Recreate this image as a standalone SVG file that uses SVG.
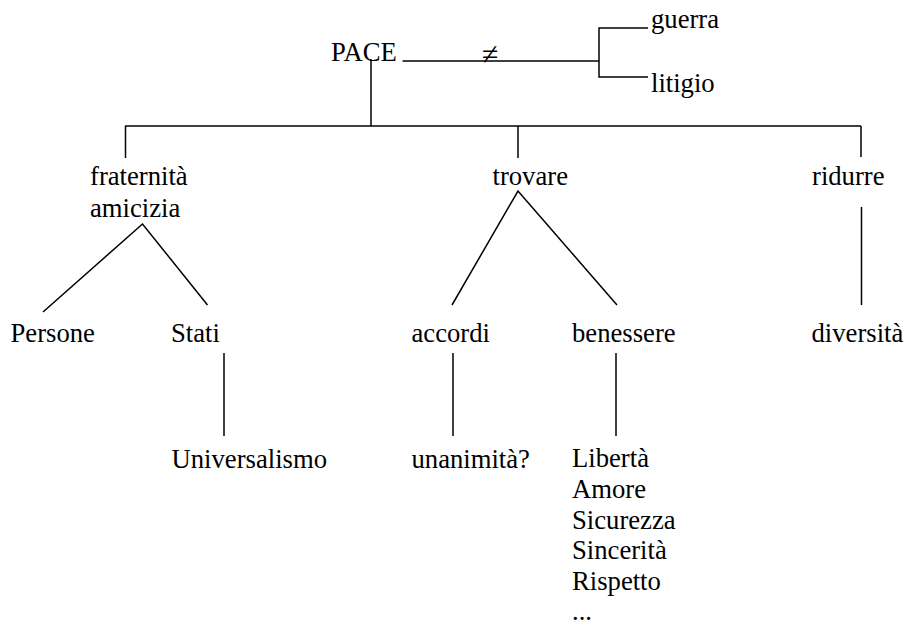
<svg xmlns="http://www.w3.org/2000/svg" width="909" height="623" viewBox="0 0 909 623">
<style>
text{font-family:"Liberation Serif","Times New Roman",Times,"DejaVu Serif",serif;font-size:26.67px;fill:#000}
.c line,.c polyline{stroke:#000;stroke-width:1.5;fill:none}
</style>
<rect width="909" height="623" fill="#fff"/>
<g class="c" id="connectors">
<line x1="402.5" y1="61" x2="599" y2="61"/>
<polyline points="648,28 599,28 599,77 648,77"/>
<line x1="371" y1="59" x2="371" y2="126"/>
<line x1="125" y1="126" x2="861" y2="126"/>
<line x1="125.5" y1="126" x2="125.5" y2="158"/>
<line x1="518" y1="126" x2="518" y2="158"/>
<line x1="861" y1="126" x2="861" y2="157"/>
<polyline points="43,312 142.5,224 207.5,305"/>
<polyline points="452,305 518,191 617,305"/>
<line x1="861.5" y1="207" x2="861.5" y2="305"/>
<line x1="224" y1="353" x2="224" y2="436"/>
<line x1="453" y1="353" x2="453" y2="436"/>
<line x1="616" y1="353" x2="616" y2="436"/>
<text x="482" y="64" style="font-size:30px">≠</text>
</g>
<g id="pace"><text x="331" y="61">PACE</text></g>
<g id="guerra"><text x="651" y="28">guerra</text></g>
<g id="litigio"><text x="651" y="92">litigio</text></g>
<g id="fraternita"><text x="90" y="185">fraternità</text><text x="90" y="216.5">amicizia</text></g>
<g id="trovare"><text x="492.5" y="184.5">trovare</text></g>
<g id="ridurre"><text x="812" y="185">ridurre</text></g>
<g id="persone"><text x="10.5" y="341.5">Persone</text></g>
<g id="stati"><text x="171" y="341.5">Stati</text></g>
<g id="accordi"><text x="411.5" y="341.5">accordi</text></g>
<g id="benessere"><text x="572" y="341.5">benessere</text></g>
<g id="diversita"><text x="811.5" y="341.5">diversità</text></g>
<g id="universalismo"><text x="171.5" y="467.5">Universalismo</text></g>
<g id="unanimita"><text x="411.5" y="467.5">unanimità?</text></g>
<g id="valori">
<text x="572" y="467">Libertà</text>
<text x="572" y="497.8">Amore</text>
<text x="572" y="528.6">Sicurezza</text>
<text x="572" y="559.4">Sincerità</text>
<text x="572" y="590.2">Rispetto</text>
<text x="572" y="620">...</text>
</g>
</svg>
